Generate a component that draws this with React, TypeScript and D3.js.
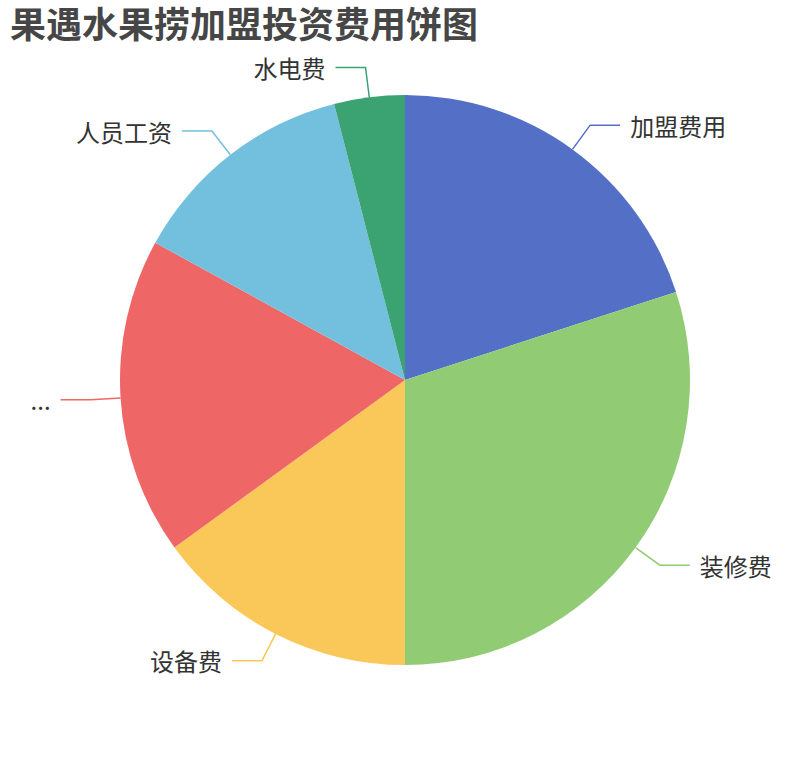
import React from "react";
import * as d3 from "d3";

const categories = ["加盟费用", "装修费", "设备费", "...", "人员工资", "水电费"];
const values = [20, 30, 15, 18, 13, 4];
const colors = ["#5470c6", "#91cc75", "#fac858", "#ee6666", "#73c0de", "#3ba272"];
const titleText = "果遇水果捞加盟投资费用饼图";

const W = 810;
const H = 760;
const cx = 405;
const cy = 380;
const R = 285;
const len1 = 30;
const len2 = 30;
const gap = 10;
const FONT = "'Noto Sans CJK SC', 'Noto Sans', sans-serif";

export default function App() {
  const data = categories.map((c, i) => ({ name: c, value: values[i], color: colors[i] }));
  const pie = d3.pie<any>().value((d) => d.value).sort(null).startAngle(0).endAngle(2 * Math.PI);
  const arcs = pie(data);
  const arcGen = d3.arc<any>().innerRadius(0).outerRadius(R);

  return (
    <svg
      width={W}
      height={H}
      style={{ position: "absolute", left: 0, top: 0, background: "#fff" }}
      fontFamily={FONT}
    >
      <text x={10} y={38} fontSize={36} fontWeight="bold" fill="#464646">
        {titleText}
      </text>
      <g transform={`translate(${cx},${cy})`}>
        {arcs.map((a, i) => (
          <path key={i} d={arcGen(a) as string} fill={a.data.color} />
        ))}
      </g>
      {arcs.map((a, i) => {
        const mid = (a.startAngle + a.endAngle) / 2;
        const sx = Math.sin(mid);
        const sy = -Math.cos(mid);
        const x0 = cx + R * sx;
        const y0 = cy + R * sy;
        const x1 = cx + (R + len1) * sx;
        const y1 = cy + (R + len1) * sy;
        const right = sx >= 0;
        const x2 = x1 + (right ? len2 : -len2);
        const tx = x2 + (right ? gap : -gap);
        return (
          <g key={"l" + i}>
            <polyline
              points={`${x0},${y0} ${x1},${y1} ${x2},${y1}`}
              fill="none"
              stroke={a.data.color}
              strokeWidth={1.5}
            />
            <text
              x={tx}
              y={y1}
              fontSize={24}
              fill="#333"
              textAnchor={right ? "start" : "end"}
              dominantBaseline="central"
            >
              {a.data.name}
            </text>
          </g>
        );
      })}
    </svg>
  );
}
